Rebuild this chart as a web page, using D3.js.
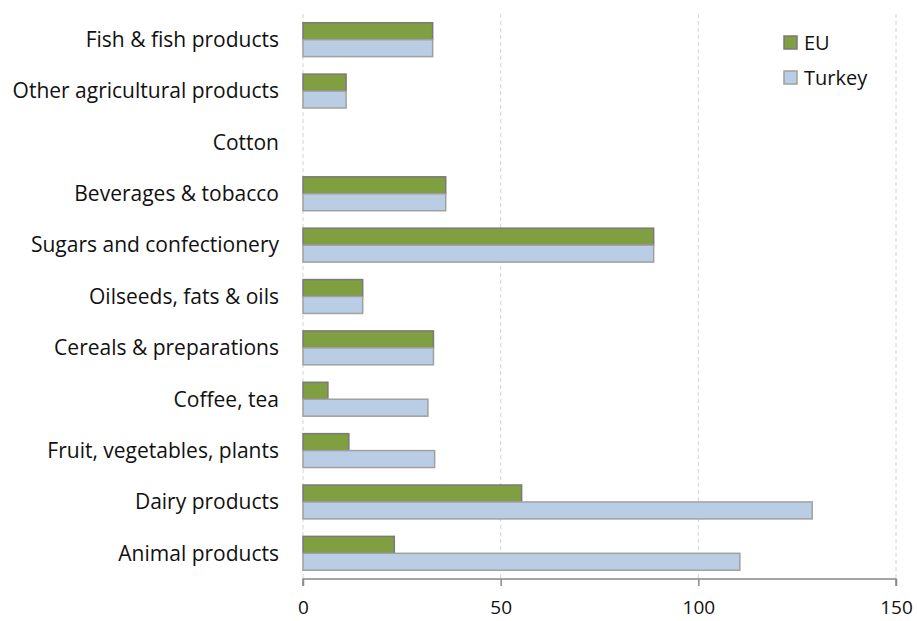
<!DOCTYPE html>
<html>
<head>
<meta charset="utf-8">
<script src="https://cdnjs.cloudflare.com/ajax/libs/d3/7.8.5/d3.min.js"></script>
<style>
  body { margin: 0; background: #fff; }
  svg { display: block; }
  text { font-family: "Open Sans", "Noto Sans", sans-serif; fill: #111; }
</style>
</head>
<body>
<div id="chart"></div>
<script>
// categories listed top to bottom
var categories = ["Fish & fish products", "Other agricultural products", "Cotton",
  "Beverages & tobacco", "Sugars and confectionery", "Oilseeds, fats & oils",
  "Cereals & preparations", "Coffee, tea", "Fruit, vegetables, plants",
  "Dairy products", "Animal products"];
var euValues = [32.8, 10.9, 0, 36.1, 88.7, 15.1, 33.0, 6.3, 11.6, 55.3, 23.1];
var turkeyValues = [32.8, 10.9, 0, 36.1, 88.7, 15.1, 33.0, 31.6, 33.3, 128.8, 110.5];
var seriesNames = ["EU", "Turkey"];
var xTicks = [0, 50, 100, 150];

var svgWidth = 917;
var svgHeight = 621;
var margin = { top: 14, right: 21, bottom: 42, left: 303 };
var width = svgWidth - margin.left - margin.right;
var height = svgHeight - margin.top - margin.bottom;

var fills = { EU: "#7f9f41", Turkey: "#b9cde5" };
var strokes = { EU: "#7a7a7a", Turkey: "#a0a0a0" };

var svg = d3.select("#chart")
  .append("svg")
  .attr("width", svgWidth)
  .attr("height", svgHeight);

var chartGroup = svg.append("g")
  .attr("transform", `translate(${margin.left}, ${margin.top})`);

var xScale = d3.scaleLinear()
  .domain([0, 150])
  .range([0, width]);

var yScale = d3.scaleBand()
  .domain(categories)
  .range([0, height])
  .paddingInner(0.34)
  .paddingOuter(0.17);

var ySub = d3.scaleBand()
  .domain(seriesNames)
  .range([0, yScale.bandwidth()]);

// dashed vertical gridlines
chartGroup.selectAll(".grid")
  .data(xTicks)
  .enter()
  .append("line")
  .attr("x1", d => xScale(d))
  .attr("x2", d => xScale(d))
  .attr("y1", 0)
  .attr("y2", height)
  .attr("stroke", "#d4d4d4")
  .attr("stroke-width", 1)
  .attr("stroke-dasharray", "4,3");

var rows = categories.map(function(c, i) {
  return { cat: c, EU: euValues[i], Turkey: turkeyValues[i] };
});

var groups = chartGroup.selectAll(".cat")
  .data(rows)
  .enter()
  .append("g")
  .attr("transform", d => `translate(0, ${yScale(d.cat)})`);

groups.selectAll("rect")
  .data(d => seriesNames.map(s => ({ key: s, value: d[s] })).filter(d => d.value > 0))
  .enter()
  .append("rect")
  .attr("x", xScale(0))
  .attr("y", d => ySub(d.key))
  .attr("width", d => xScale(d.value) - xScale(0))
  .attr("height", ySub.bandwidth())
  .attr("fill", d => fills[d.key])
  .attr("stroke", d => strokes[d.key])
  .attr("stroke-width", 1.5);

// category labels
chartGroup.selectAll(".catLabel")
  .data(categories)
  .enter()
  .append("text")
  .attr("x", -24)
  .attr("y", d => yScale(d) + yScale.bandwidth() / 2)
  .attr("dy", "0.35em")
  .attr("text-anchor", "end")
  .style("font-size", "21px")
  .text(d => d);

// bottom axis
var bottomAxis = d3.axisBottom(xScale)
  .tickValues(xTicks)
  .tickSize(7)
  .tickPadding(15);

var xAxis = chartGroup.append("g")
  .attr("transform", `translate(0, ${height})`)
  .call(bottomAxis);

xAxis.select(".domain").attr("stroke", "#888").attr("stroke-width", 1.5)
  .attr("d", `M0,7V0H${width}V7`);
xAxis.selectAll(".tick line").attr("stroke", "#888").attr("stroke-width", 1.5);
xAxis.selectAll(".tick text")
  .style("font-size", "19px")
  .style("font-family", "'Open Sans', 'Noto Sans', sans-serif")
  .attr("fill", "#111");

// legend
var legend = svg.append("g")
  .attr("transform", "translate(784, 36)");

var legendItems = legend.selectAll(".leg")
  .data(seriesNames)
  .enter()
  .append("g")
  .attr("transform", (d, i) => `translate(0, ${i * 35})`);

legendItems.append("rect")
  .attr("width", 13)
  .attr("height", 13)
  .attr("fill", d => fills[d])
  .attr("stroke", d => strokes[d])
  .attr("stroke-width", 1.5);

legendItems.append("text")
  .attr("x", 20)
  .attr("y", 7)
  .attr("dy", "0.35em")
  .style("font-size", "20px")
  .text(d => d);
</script>
</body>
</html>
